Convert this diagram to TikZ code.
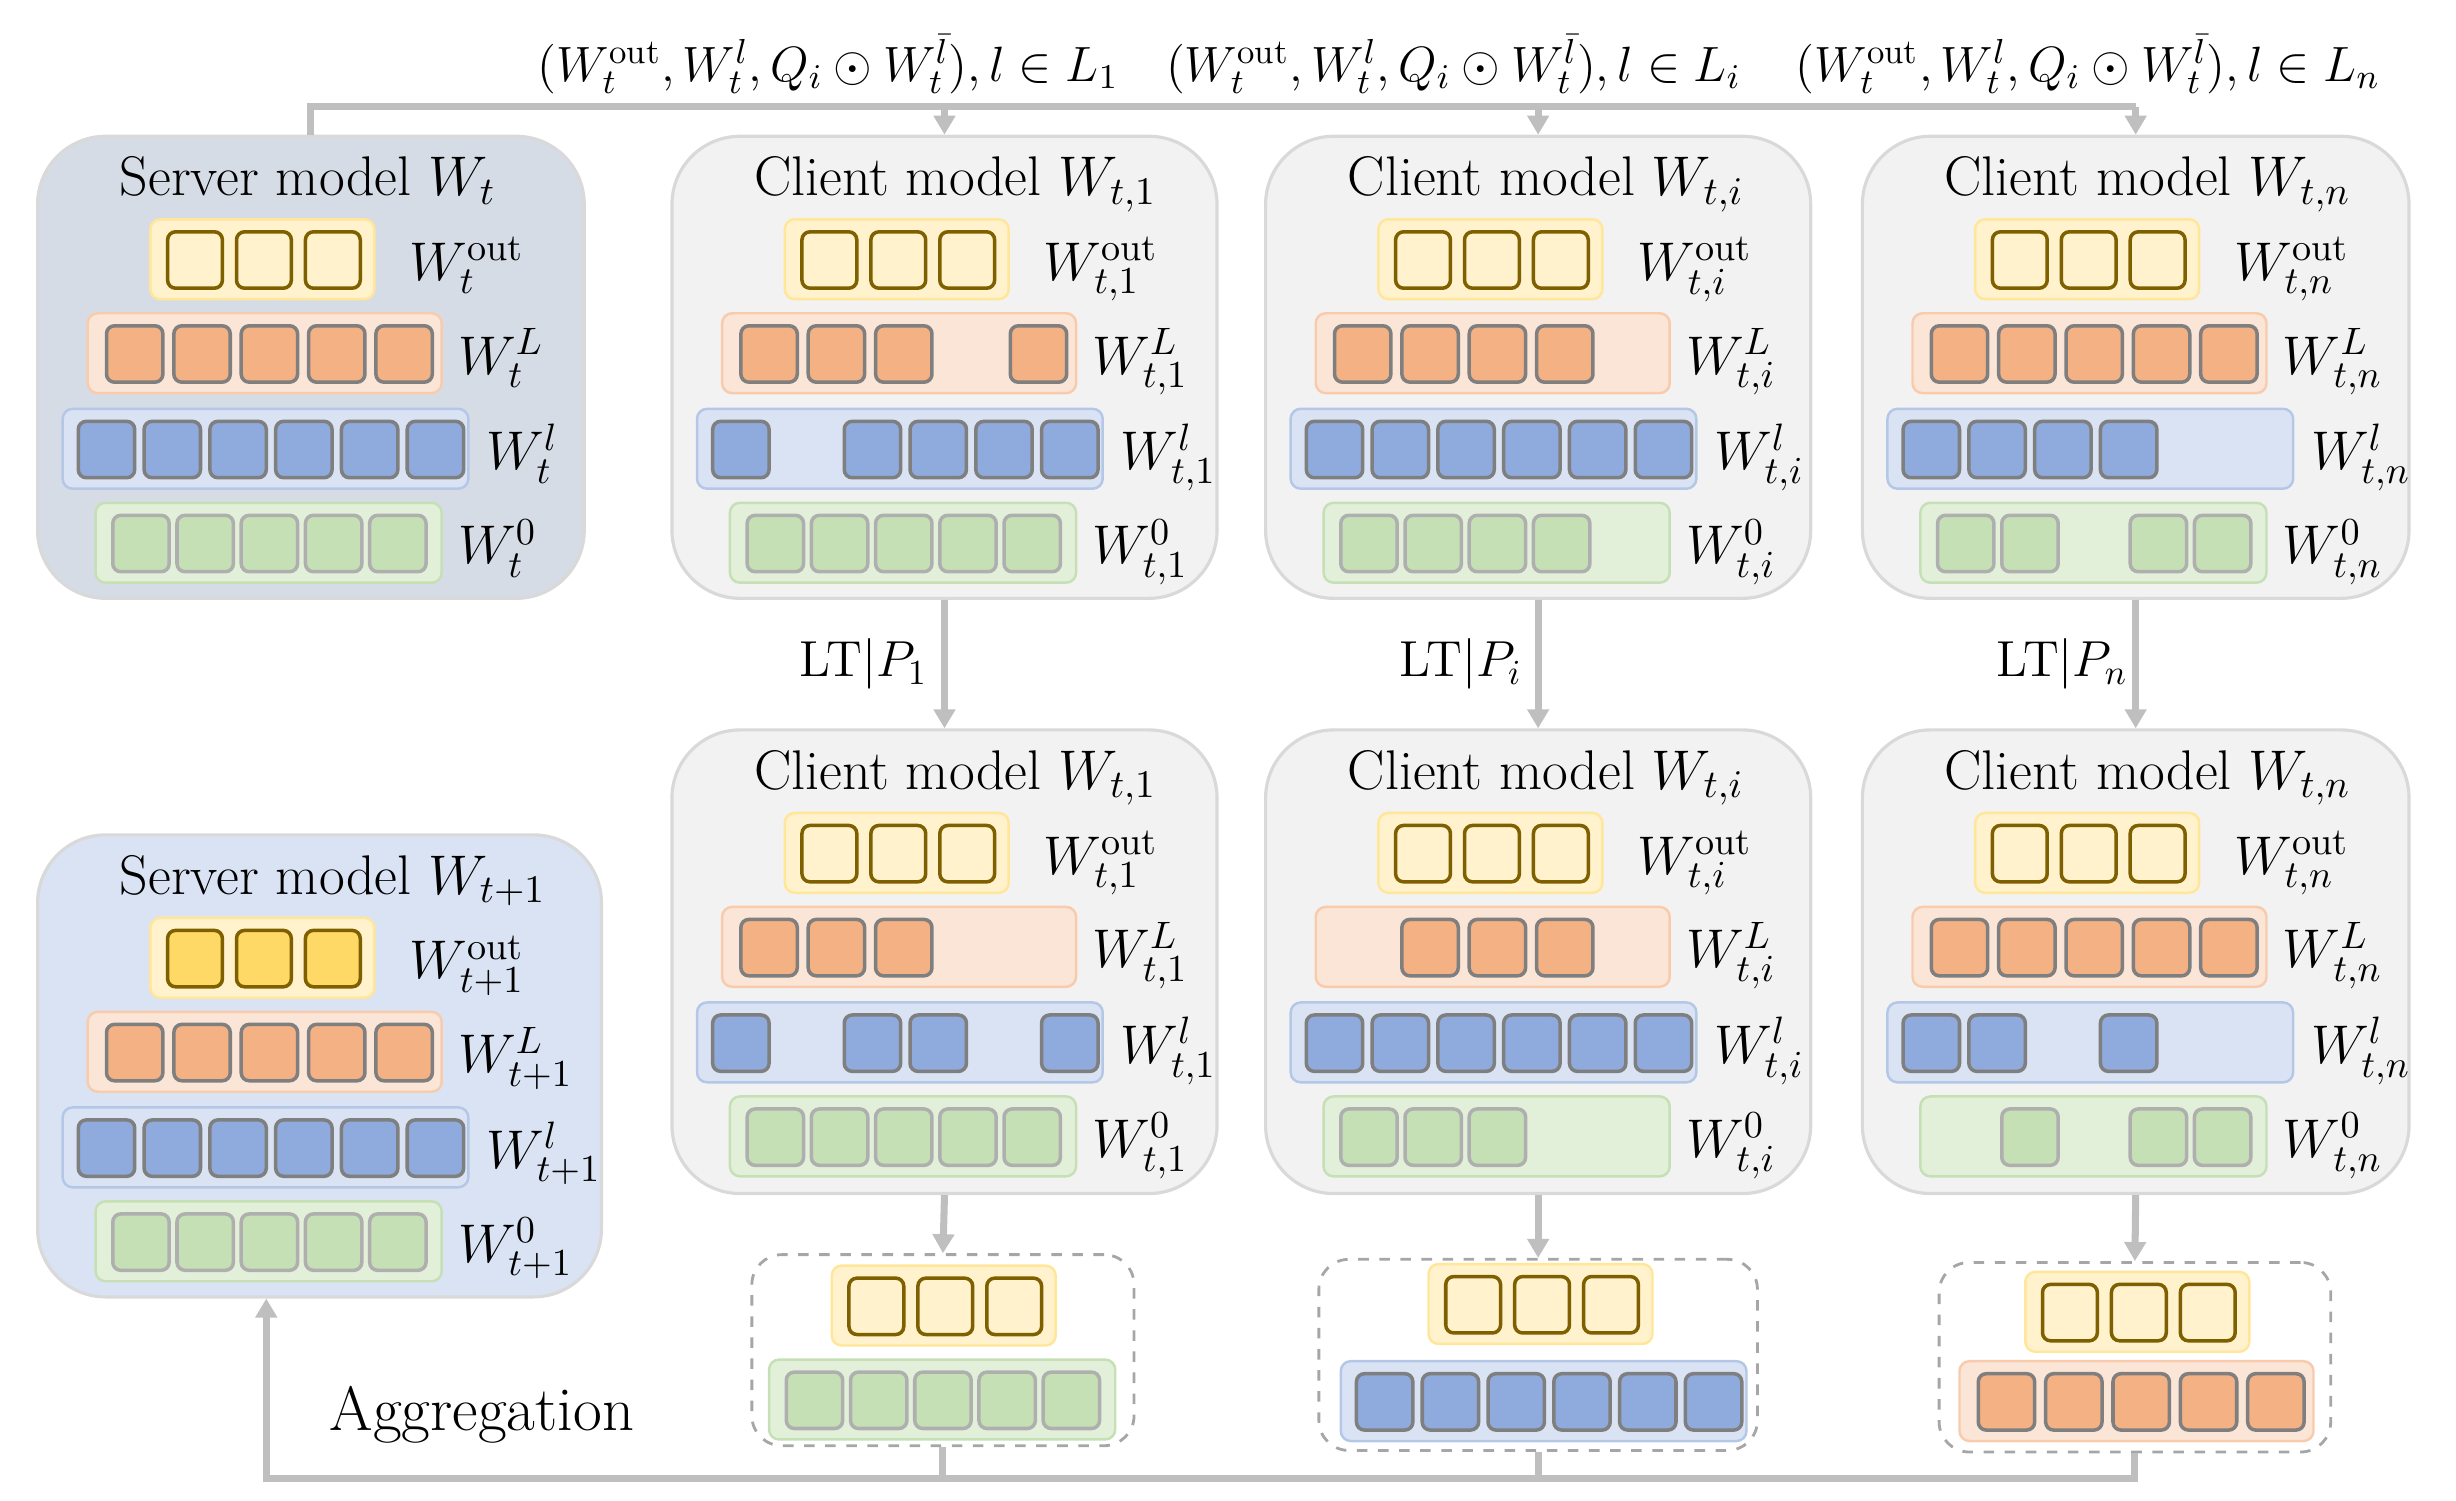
\documentclass[tikz,border=0pt]{standalone}
\usepackage{fix-cm}
\usepackage{amsmath}
\usepackage{fontspec}
\usetikzlibrary{arrows.meta,fit,calc}
\definecolor{srvA}{HTML}{D6DCE5}
\definecolor{srvB}{HTML}{DAE3F3}
\definecolor{cliF}{HTML}{F2F2F2}
\definecolor{cliE}{HTML}{D9D9D9}
\definecolor{yRowF}{HTML}{FFF2CC}
\definecolor{yRowE}{HTML}{FFE699}
\definecolor{yBoxE}{HTML}{7F6000}
\definecolor{yDark}{HTML}{FFD966}
\definecolor{oRowF}{HTML}{FBE5D6}
\definecolor{oRowE}{HTML}{F8CBAD}
\definecolor{oBoxF}{HTML}{F4B183}
\definecolor{bRowF}{HTML}{DAE3F3}
\definecolor{bRowE}{HTML}{B4C7E7}
\definecolor{bBoxF}{HTML}{8FAADC}
\definecolor{gRowF}{HTML}{E2F0D9}
\definecolor{gRowE}{HTML}{C5E0B4}
\definecolor{gBoxF}{HTML}{C5E0B4}
\definecolor{gBoxE}{HTML}{AFAFAF}
\definecolor{boxE}{HTML}{7F7F7F}
\definecolor{lineC}{HTML}{BFBFBF}
\definecolor{dashC}{HTML}{A6A6A6}
\tikzset{
  srvbox/.style={draw=cliE, line width=0.9pt, rounded corners=0.68cm, inner sep=0pt},
  clibox/.style={draw=cliE, fill=cliF, line width=0.9pt, rounded corners=0.68cm, inner sep=0pt},
  dashbox/.style={draw=dashC, dashed, line width=0.8pt, rounded corners=0.3cm, inner sep=0pt},
  rowY/.style={draw=yRowE, fill=yRowF, line width=0.7pt, rounded corners=0.1cm},
  rowO/.style={draw=oRowE, fill=oRowF, line width=0.7pt, rounded corners=0.1cm},
  rowB/.style={draw=bRowE, fill=bRowF, line width=0.7pt, rounded corners=0.1cm},
  rowG/.style={draw=gRowE, fill=gRowF, line width=0.7pt, rounded corners=0.1cm},
  boxY/.style={draw=yBoxE, line width=1pt, rounded corners=0.08cm},
  boxO/.style={draw=boxE, fill=oBoxF, line width=1pt, rounded corners=0.08cm},
  boxB/.style={draw=boxE, fill=bBoxF, line width=1pt, rounded corners=0.08cm},
  boxG/.style={draw=gBoxE, fill=gBoxF, line width=1pt, rounded corners=0.08cm},
  ttl/.style={anchor=base west, inner sep=0pt, font=\fontsize{15.9}{19}\selectfont},
  lbl/.style={anchor=base west, inner sep=0pt},
  frm/.style={anchor=base west, inner sep=0pt, font=\fontsize{14.1}{17}\selectfont},
  ltl/.style={anchor=base west, inner sep=0pt, font=\fontsize{14.4}{17}\selectfont},
  conn/.style={draw=lineC, line width=2pt},
  arr/.style={draw=lineC, line width=2pt, -{Triangle[length=0.19cm,width=0.21cm]}},
}
\newcommand\rowY[4]{%
  \draw[rowY] (#1,#2) rectangle ++(143,51);
  \foreach \s in {#3} \draw[boxY, fill=#4] ({#1+11+44*(\s-1)},{#2+8}) rectangle ++(35,36);
}
\newcommand\rowO[3]{%
  \draw[rowO] (#1,#2) rectangle ++(226,51);
  \foreach \s in {#3} \draw[boxO] ({#1+12+43*(\s-1)},{#2+8}) rectangle ++(36,36);
}
\newcommand\rowB[3]{%
  \draw[rowB] (#1,#2) rectangle ++(259,51);
  \foreach \s in {#3} \draw[boxB] ({#1+10+42*(\s-1)},{#2+8}) rectangle ++(36,36);
}
\newcommand\rowG[3]{%
  \draw[rowG] (#1,#2) rectangle ++(221,51);
  \foreach \s in {#3} \draw[boxG] ({#1+11+41*(\s-1)},{#2+8}) rectangle ++(36,36);
}
% #1 name, #2 x, #3 y, #4 yellow fill, #5 orange, #6 blue, #7 green, #8 title word, #9 subscript
\newcommand\mdl[9]{%
  \rowY{#2+72}{#3+53}{1,2,3}{#4}
  \rowO{#2+32}{#3+113}{#5}
  \rowB{#2+16}{#3+174}{#6}
  \rowG{#2+37}{#3+234}{#7}
  \node[ttl] (#1-t) at ({#2+52},{#3+38}) {#8 model $W_{#9}$};
  \node[lbl] (#1-a) at ({#2+237},{#3+53+39}) {$W_{#9}^{\mathrm{out}}$};
  \node[lbl] (#1-b) at ({#2+268},{#3+113+39}) {$W_{#9}^{L}$};
  \node[lbl] (#1-c) at ({#2+286},{#3+174+39}) {$W_{#9}^{l}$};
  \node[lbl] (#1-d) at ({#2+268},{#3+234+39}) {$W_{#9}^{0}$};
}
\begin{document}
\begin{tikzpicture}[x=0.015663cm,y=-0.015663cm,font=\fontsize{15.5}{18}\selectfont]
\useasboundingbox (0,0) rectangle (1568,958);
% model boxes
\node[srvbox, fill=srvA, fit={(24,87) (373,382)}] (s1) {};
\node[srvbox, fill=srvB, fit={(24,533) (384,828)}] (s2) {};
\node[clibox, fit={(429,87) (777,382)}] (c1) {};
\node[clibox, fit={(808,87) (1156,382)}] (ci) {};
\node[clibox, fit={(1189,87) (1538,382)}] (cn) {};
\node[clibox, fit={(429,466) (777,762)}] (d1) {};
\node[clibox, fit={(808,466) (1156,762)}] (di) {};
\node[clibox, fit={(1189,466) (1538,762)}] (dn) {};
\node[dashbox, fit={(480,801) (724,923)}] (e1) {};
\node[dashbox, fit={(842,804) (1122,926)}] (ei) {};
\node[dashbox, fit={(1238,806) (1488,927)}] (en) {};
% contents
\mdl{S1}{24}{87}{yRowF}{1,2,3,4,5}{1,2,3,4,5,6}{1,2,3,4,5}{Server}{t}
\mdl{S2}{24}{533}{yDark}{1,2,3,4,5}{1,2,3,4,5,6}{1,2,3,4,5}{Server}{t+1}
\mdl{C1}{429}{87}{yRowF}{1,2,3,5}{1,3,4,5,6}{1,2,3,4,5}{Client}{t,1}
\mdl{Ci}{808}{87}{yRowF}{1,2,3,4}{1,2,3,4,5,6}{1,2,3,4}{Client}{t,i}
\mdl{Cn}{1189}{87}{yRowF}{1,2,3,4,5}{1,2,3,4}{1,2,4,5}{Client}{t,n}
\mdl{D1}{429}{466}{yRowF}{1,2,3}{1,3,4,6}{1,2,3,4,5}{Client}{t,1}
\mdl{Di}{808}{466}{yRowF}{2,3,4}{1,2,3,4,5,6}{1,2,3}{Client}{t,i}
\mdl{Dn}{1189}{466}{yRowF}{1,2,3,4,5}{1,2,4}{2,4,5}{Client}{t,n}
% dashed contents
\rowY{531}{808}{1,2,3}{yRowF}
\rowG{491}{868}{1,2,3,4,5}
\rowY{912}{807}{1,2,3}{yRowF}
\rowB{856}{869}{1,2,3,4,5,6}
\rowY{1293}{812}{1,2,3}{yRowF}
\rowO{1251}{869}{1,2,3,4,5}
% top labels
\node[frm] (f1) at (343,52) {$(W_t^{\mathrm{out}}, W_t^l, Q_i \odot W_t^{\bar{l}}), l \in L_1$};
\node[frm] (fi) at (744,52) {$(W_t^{\mathrm{out}}, W_t^l, Q_i \odot W_t^{\bar{l}}), l \in L_i$};
\node[frm] (fn) at (1146,52) {$(W_t^{\mathrm{out}}, W_t^l, Q_i \odot W_t^{\bar{l}}), l \in L_n$};
% LT labels
\node[ltl] (p1) at (510,432) {LT$|P_1$};
\node[ltl] (pi) at (893,432) {LT$|P_i$};
\node[ltl] (pn) at (1274,432) {LT$|P_n$};
\node[lbl, font=\fontsize{17.8}{21}\selectfont] (agg) at (210,913) {Aggregation};
% connectors
\coordinate (busT) at (0,68);
\coordinate (busB) at (0,944);
\draw[conn] (s1.north) -- (s1.north |- busT) -- (cn.north |- busT);
\draw[arr] (c1.north |- busT) -- (c1.north);
\draw[arr] (ci.north |- busT) -- (ci.north);
\draw[arr] (cn.north |- busT) -- (cn.north);
\draw[arr] (c1.south) -- (d1.north);
\draw[arr] (ci.south) -- (di.north);
\draw[arr] (cn.south) -- (dn.north);
\draw[arr] (d1.south) -- (e1.north);
\draw[arr] (di.south) -- (ei.north);
\draw[arr] (dn.south) -- (en.north);
\coordinate (aggX) at ($(s2.south)+(-34,0)$);
\draw[conn] (e1.south) -- (e1.south |- busB);
\draw[conn] (ei.south) -- (ei.south |- busB);
\draw[arr] (en.south) |- (aggX |- busB) -- (aggX);
\end{tikzpicture}
\end{document}
